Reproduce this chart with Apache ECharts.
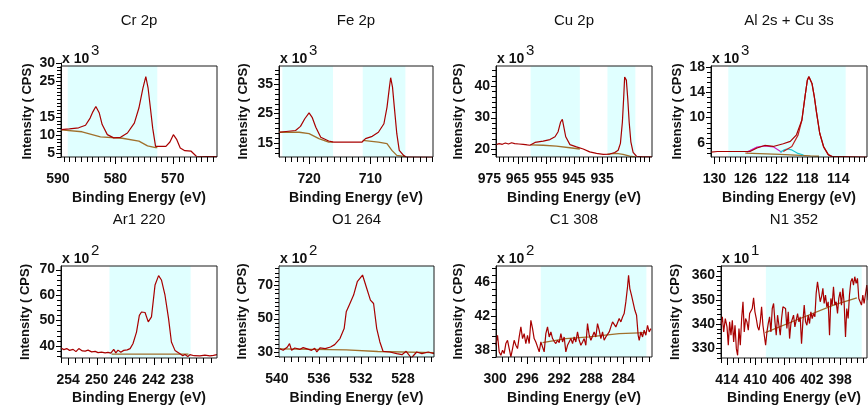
<!DOCTYPE html>
<html><head><meta charset="utf-8">
<script src="https://cdn.jsdelivr.net/npm/echarts@6/dist/echarts.min.js"></script>
<style>html,body{margin:0;padding:0;background:#fff}#c{width:868px;height:407px}</style>
</head><body><div id="c"></div>
<script>
// ---------------- DATA ----------------
const titles = ['Cr 2p', 'Fe 2p', 'Cu 2p', 'Al 2s + Cu 3s', 'Ar1 220', 'O1 264', 'C1 308', 'N1 352'];
const multipliers = ['3', '3', '3', '3', '2', '2', '2', '1'];
const xTitle = 'Binding Energy (eV)';
const yTitle = 'Intensity ( CPS)';

// tick labels
const crXLabels = [590, 580, 570], crYLabels = [5, 10, 15, 25, 30];
const feXLabels = [720, 710], feYLabels = [15, 25, 35];
const cuXLabels = [975, 965, 955, 945, 935], cuYLabels = [20, 30, 40];
const alXLabels = [130, 126, 122, 118, 114], alYLabels = [6, 10, 14, 18];
const arXLabels = [254, 250, 246, 242, 238], arYLabels = [40, 50, 60, 70];
const o1XLabels = [540, 536, 532, 528], o1YLabels = [30, 50, 70];
const c1XLabels = [300, 296, 292, 288, 284], c1YLabels = [38, 42, 46];
const n1XLabels = [414, 410, 406, 402, 398], n1YLabels = [330, 340, 350, 360];

// shaded regions (binding energy ranges)
const crShade = [[588.3, 572.7]];
const feShade = [[724.35, 716.1], [711.25, 704.3]];
const cuShade = [[960.35, 942.9], [933.1, 923.2]];
const alShade = [[128.2, 113.05]];
const arShade = [[248.2, 236.8]];
const o1Shade = [[539.8, 525.05]];
const c1Shade = [[294.3, 281.1]];
const n1Shade = [[408.5, 394.95]];

// spectra [BE (eV), intensity]
const crData = [[589.47,11.5],[588.0,11.7],[586.4,12.0],[585.2,12.7],[584.4,14.7],[583.9,16.5],[583.4,17.9],[582.8,16.1],[582.3,12.9],[581.4,10.1],[580.3,9.2],[579.1,9.35],[577.9,10.55],[576.7,13.3],[575.9,17.5],[575.2,23.0],[574.7,26.2],[574.3,23.0],[573.9,17.5],[573.5,11.9],[573.0,6.85],[571.2,6.85],[570.5,8.05],[569.9,10.1],[569.3,8.7],[568.7,6.4],[567.9,5.65],[566.8,5.5],[565.9,4.1],[562.3,4.0]];
const crBg = [[589.47,11.4],[585.8,10.9],[582.6,9.5],[578.8,9.1],[575.9,8.3],[574.4,7.0],[573.0,6.5],[572.7,6.5]];

const feData = [[724.9,18.6],[722.2,19.2],[721.4,20.6],[720.7,23.2],[720.0,25.2],[719.5,23.7],[718.9,20.3],[718.1,16.9],[716.8,15.6],[716.0,15.2],[711.4,15.2],[710.8,16.4],[709.7,17.2],[708.7,18.6],[707.8,21.5],[707.3,27.1],[706.9,34.0],[706.7,37.2],[706.4,34.0],[706.1,27.1],[705.7,18.1],[705.3,12.4],[704.6,10.7],[704.1,10.1],[699.8,10.0]];
const feBg1 = [[724.9,18.6],[721.6,18.6],[720.0,18.1],[718.4,16.4],[716.8,15.2],[716.1,15.2]];
const feBg2 = [[711.25,15.8],[708.7,15.2],[707.3,14.7],[706.5,12.4],[705.7,10.7],[704.3,10.3]];

const cuData = [[972.6,21.4],[971.5,21.7],[970.4,21.5],[969.3,21.9],[968.2,21.6],[967.1,22.0],[966.0,21.7],[964.5,21.6],[963.0,21.5],[961.5,21.3],[960.6,21.2],[958.8,22.1],[955.9,22.5],[953.5,23.0],[951.7,23.9],[950.6,25.5],[949.7,28.6],[949.1,29.4],[948.6,27.1],[947.9,23.9],[946.4,21.4],[944.1,20.7],[941.7,20.0],[939.4,19.1],[937.0,18.6],[934.6,18.3],[932.3,18.4],[930.5,18.9],[929.3,19.6],[928.5,21.8],[927.8,28.6],[927.3,37.1],[927.0,42.9],[926.4,41.9],[925.9,36.0],[925.4,28.6],[924.8,22.3],[924.0,18.9],[922.8,17.7],[920.5,17.5],[917.3,17.5]];
const cuBg1 = [[960.4,21.3],[955.9,21.2],[951.2,20.9],[946.4,20.4],[942.9,20.0]];
const cuBg2 = [[933.1,18.4],[929.9,18.6],[927.6,18.3],[925.2,17.7],[923.2,17.5]];

const alData = [[130.43,4.5],[129.6,4.6],[129.5,4.8],[129.4,4.6],[127.5,4.6],[125.4,4.6],[124.5,5.15],[123.5,5.56],[122.4,5.4],[121.1,5.83],[120.2,6.2],[119.4,7.25],[118.7,9.6],[118.3,13.3],[118.0,15.9],[117.8,16.5],[117.4,15.4],[117.1,13.3],[116.8,10.7],[116.4,7.5],[115.9,5.4],[115.3,4.1],[114.9,3.83],[110.3,3.73]];
const alComp = [[121.1,4.6],[120.0,5.4],[119.2,7.2],[118.7,9.6],[118.3,13.3],[118.0,15.9],[117.8,16.4],[117.4,15.4],[117.1,13.3],[116.8,10.7],[116.4,7.5],[115.9,5.3],[115.3,4.1],[114.8,3.85]];
const alPink = [[125.8,4.5],[124.5,5.3],[123.5,5.5],[122.4,5.35],[121.75,4.85],[121.3,4.5]];
const alCyan = [[121.5,4.5],[120.9,4.9],[120.6,5.0],[120.0,4.85],[119.2,4.3],[118.5,4.05]];
const alBg = [[126.0,4.35],[121.5,4.15],[117.6,3.9],[116.5,3.85]];

const arData = [[255.0,39.1],[254.6,38.5],[254.2,38.9],[253.8,38.2],[253.3,38.6],[252.9,37.7],[252.5,38.9],[252.0,38.0],[251.6,37.9],[251.2,38.3],[250.7,37.6],[250.2,37.8],[249.8,37.3],[249.3,37.5],[248.8,37.2],[248.4,37.4],[248.0,37.1],[247.6,38.6],[247.3,37.2],[247.0,38.3],[246.6,37.5],[246.2,38.2],[245.7,38.4],[245.3,38.9],[244.9,40.8],[244.4,45.4],[244.0,52.0],[243.7,53.3],[243.2,53.1],[242.75,49.4],[242.3,51.4],[241.8,63.9],[241.3,67.6],[240.9,65.9],[240.4,59.9],[239.9,50.7],[239.5,41.5],[239.0,38.2],[238.3,36.9],[237.9,36.1],[237.6,36.6],[237.2,35.8],[236.9,36.5],[236.3,36.1],[235.5,36.0],[234.8,36.3],[234.1,36.0],[233.6,36.2],[233.1,36.5]];
const arBg = [[247.9,36.7],[237.1,36.7]];

const o1Data = [[539.75,32.0],[539.4,31.0],[539.0,33.0],[538.8,35.0],[538.6,31.0],[538.3,32.4],[537.8,31.6],[537.5,32.6],[537.2,32.0],[536.9,31.4],[536.7,31.0],[536.4,32.2],[536.2,30.0],[535.9,32.4],[535.4,32.0],[534.9,33.0],[534.5,34.4],[534.0,38.0],[533.6,44.0],[533.4,54.0],[533.05,59.0],[532.7,64.0],[532.35,72.0],[531.85,76.0],[531.5,69.0],[531.1,61.0],[530.8,59.0],[530.5,44.0],[530.2,36.0],[529.9,30.4],[529.25,30.0],[528.6,29.0],[528.1,28.4],[527.7,30.4],[527.2,26.4],[526.7,30.0],[526.2,29.0],[525.6,30.0],[525.05,29.0]];
const o1Bg = [[539.75,31.8],[533.4,31.2],[530.4,30.3],[525.05,29.6]];

const c1Data = [[299.92,38.53],[299.71,39.71],[299.5,37.75],[299.29,37.35],[299.08,37.94],[298.88,37.55],[298.67,38.73],[298.46,39.12],[298.25,38.14],[298.04,37.16],[297.83,38.14],[297.63,39.12],[297.42,38.53],[297.21,38.14],[297.0,39.51],[296.79,40.69],[296.58,39.32],[296.38,39.9],[296.17,38.73],[295.96,39.71],[295.75,38.73],[295.54,41.47],[295.33,40.49],[295.13,39.32],[294.92,38.92],[294.71,38.34],[294.5,37.75],[294.29,38.92],[294.08,39.12],[293.88,37.75],[293.67,39.9],[293.46,40.69],[293.25,39.51],[293.04,40.1],[292.83,39.32],[292.63,39.0],[292.42,38.73],[292.21,39.12],[292.0,38.85],[291.79,39.9],[291.58,38.92],[291.38,39.51],[291.17,37.75],[290.96,38.53],[290.75,38.34],[290.54,39.32],[290.33,38.73],[290.13,39.51],[289.92,38.92],[289.71,40.1],[289.5,39.12],[289.29,38.53],[289.08,38.92],[288.88,39.32],[288.67,38.53],[288.46,41.08],[288.25,39.71],[288.04,39.12],[287.83,39.32],[287.63,40.1],[287.42,39.51],[287.21,41.08],[287.0,40.3],[286.79,39.32],[286.58,40.1],[286.38,39.12],[286.17,39.51],[285.96,39.71],[285.75,40.1],[285.54,40.69],[285.33,41.28],[285.13,41.08],[284.92,40.69],[284.71,40.88],[284.5,41.67],[284.29,41.28],[284.08,41.86],[283.88,42.26],[283.67,43.63],[283.46,45.39],[283.33,46.77],[283.17,45.2],[282.96,44.41],[282.75,44.22],[282.54,42.65],[282.33,42.06],[282.13,39.71],[282.0,39.12],[281.79,40.1],[281.58,39.51],[281.38,40.3],[281.17,39.71],[280.96,40.88],[280.75,40.1],[280.54,40.49]];
const c1Bg = [[294.08,38.85],[291.17,39.32],[288.25,39.51],[284.5,39.9],[281.17,40.02]];

const n1Data = [[414.85,339.41],[414.66,342.89],[414.47,336.64],[414.24,342.19],[414.0,338.72],[413.82,331.08],[413.63,340.8],[413.44,335.25],[413.25,341.5],[413.06,332.47],[412.87,339.41],[412.68,329.69],[412.5,326.91],[412.31,338.02],[412.12,331.08],[411.93,342.19],[411.74,349.14],[411.56,336.64],[411.37,342.19],[411.18,340.8],[410.99,337.33],[410.8,344.27],[410.61,343.58],[410.43,346.36],[410.24,350.8],[410.05,344.97],[409.86,342.19],[409.67,338.72],[409.48,337.33],[409.3,340.8],[409.11,347.05],[408.92,339.41],[408.73,335.25],[408.54,331.08],[408.35,336.64],[408.17,340.11],[407.98,342.89],[407.79,336.64],[407.6,346.36],[407.41,348.44],[407.22,340.8],[407.04,335.25],[406.85,343.58],[406.66,339.41],[406.47,335.25],[406.28,342.19],[406.09,347.05],[405.91,347.75],[405.72,346.36],[405.53,338.02],[405.34,344.97],[405.15,333.86],[404.96,340.11],[404.78,339.41],[404.59,343.58],[404.4,338.72],[404.21,341.5],[404.02,344.27],[403.83,340.8],[403.65,342.89],[403.46,331.77],[403.27,340.8],[403.08,347.75],[402.89,340.8],[402.7,339.41],[402.52,343.58],[402.33,340.11],[402.14,344.97],[401.95,342.19],[401.76,344.27],[401.57,342.89],[401.39,352.61],[401.2,357.47],[401.01,353.3],[400.82,349.14],[400.63,351.22],[400.44,354.69],[400.26,348.44],[400.07,351.91],[399.88,347.05],[399.69,349.14],[399.5,335.25],[399.31,350.52],[399.13,347.75],[398.94,355.39],[398.75,347.75],[398.56,349.14],[398.37,344.27],[398.19,350.52],[398.0,353.3],[397.81,347.75],[397.62,354.69],[397.43,348.44],[397.24,334.55],[397.06,346.36],[396.87,342.19],[396.68,351.91],[396.49,357.47],[396.3,358.86],[396.11,356.08],[395.93,359.55],[395.74,356.77],[395.55,358.86],[395.36,350.52],[395.17,349.14],[394.98,347.75],[394.79,351.91],[394.61,348.44],[394.42,349.14],[394.23,356.08],[394.04,349.83]];
const n1Bg = [[408.59,336.36],[403.65,342.2],[398.94,347.75],[395.64,350.8]];

// ---------------- LAYOUT / STYLE ----------------
const RED = '#a80000', BROWN = '#a0702c', SHADE = '#e0ffff', INK = '#111';
const FONT = '"Liberation Sans", Arial, sans-serif';

const panels = [
  {data: crData, bgs: [crBg], comps: [], shade: crShade, xl: crXLabels, yl: crYLabels, xr: [589.47, 562.3], yr: [3.89, 29.17], xs: 1, ys: 1, box: [61, 66, 217, 157], ytx: 27},
  {data: feData, bgs: [feBg1, feBg2], comps: [], shade: feShade, xl: feXLabels, yl: feYLabels, xr: [724.9, 699.8], yr: [10.15, 41.2], xs: 1, ys: 10/6, box: [279, 66, 433, 157], ytx: 243},
  {data: cuData, bgs: [cuBg1, cuBg2], comps: [], shade: cuShade, xl: cuXLabels, yl: cuYLabels, xr: [972.63, 917.3], yr: [17.46, 46.4], xs: 10/6, ys: 10/6, box: [496, 66, 652, 157], ytx: 458},
  {data: alData, bgs: [alBg], comps: [[alPink, '#d020c0'], [alCyan, '#20c8d0'], [alComp, '#c02020']], shade: alShade, xl: alXLabels, yl: alYLabels, xr: [130.43, 110.3], yr: [3.73, 18.16], xs: 4/6, ys: 0.8, box: [711, 66, 867, 157], ytx: 677},
  {data: arData, bgs: [arBg], comps: [], shade: arShade, xl: arXLabels, yl: arYLabels, xr: [255.0, 233.1], yr: [35.2, 71.4], xs: 1, ys: 2, box: [61, 266, 217, 358], ytx: 25},
  {data: o1Data, bgs: [o1Bg], comps: [], shade: o1Shade, xl: o1XLabels, yl: o1YLabels, xr: [539.8, 525.05], yr: [27, 81.4], xs: 4/6, ys: 2.5, box: [279, 266, 434, 357], ytx: 242},
  {data: c1Data, bgs: [c1Bg], comps: [], shade: c1Shade, xl: c1XLabels, yl: c1YLabels, xr: [299.9, 280.4], yr: [37.15, 47.86], xs: 0.8, ys: 0.8, box: [496, 266, 652, 357], ytx: 458},
  {data: n1Data, bgs: [n1Bg], comps: [], shade: n1Shade, xl: n1XLabels, yl: n1YLabels, xr: [414.85, 394.2], yr: [325.8, 364.0], xs: 0.8, ys: 2, box: [721, 266, 867, 358], ytx: 675}
];

function tickList(lo, hi, anchor, step) {
  const out = [];
  let k = Math.ceil((lo - anchor) / step - 1e-6);
  for (;; k++) {
    const v = anchor + k * step;
    if (v > hi + 1e-6) break;
    out.push(+v.toFixed(4));
  }
  return out;
}
function isMajor(v, labels) { return labels.some(l => Math.abs(l - v) < 1e-3); }

const grids = [], xAxes = [], yAxes = [], series = [], graphics = [];
panels.forEach((p, i) => {
  const [bl, bt, br, bb] = p.box;
  const xpx = (br - bl) / (p.xr[0] - p.xr[1]);
  const ypx = (bb - bt) / (p.yr[1] - p.yr[0]);
  const xMax = Math.max(p.xr[0], ...p.xl), xMin = Math.min(p.xr[1], ...p.xl);
  const yMax = Math.max(p.yr[1], ...p.yl), yMin = Math.min(p.yr[0], ...p.yl);
  const mL = bl - (xMax - p.xr[0]) * xpx, mR = br + (p.xr[1] - xMin) * xpx;
  const mT = bt - (yMax - p.yr[1]) * ypx, mB = bb + (p.yr[0] - yMin) * ypx;
  const g = 2 * i;
  grids.push({left: mL, top: mT, width: mR - mL, height: mB - mT, show: false, outerBoundsMode: 'none', containLabel: false});
  grids.push({left: bl, top: bt, width: br - bl, height: bb - bt, show: true, borderColor: '#1a1a1a', borderWidth: 1, backgroundColor: 'transparent', z: 5, outerBoundsMode: 'none', containLabel: false});
  const xt = tickList(p.xr[1], p.xr[0], p.xl[0], p.xs);
  const yt = tickList(p.yr[0], yMax, p.yl[0], p.ys);
  xAxes.push({
    gridIndex: g, type: 'value', inverse: true, min: xMin, max: xMax,
    offset: -(mB - bb),
    axisLine: {show: false}, splitLine: {show: false}, axisTick: {show: false},
    axisLabel: {customValues: p.xl, margin: 15, fontSize: 14, fontWeight: 'bold', color: INK, fontFamily: FONT}
  });
  xAxes.push({gridIndex: g + 1, type: 'value', show: false, min: 0, max: 1});
  yAxes.push({
    gridIndex: g, type: 'value', min: yMin, max: yMax,
    offset: -(bl - mL),
    axisLine: {show: true, lineStyle: {color: '#000', width: 1}}, splitLine: {show: false}, axisTick: {show: false},
    axisLabel: {customValues: p.yl, margin: 6, fontSize: 14, fontWeight: 'bold', color: INK, fontFamily: FONT}
  });
  yAxes.push({gridIndex: g + 1, type: 'value', show: false, min: 0, max: 1});

  // shaded region series (behind)
  series.push({
    type: 'line', xAxisIndex: g, yAxisIndex: g, data: [], z: 1, silent: true,
    markArea: {silent: true, itemStyle: {color: SHADE, opacity: 1}, label: {show: false},
      data: p.shade.map(s => [{xAxis: s[0], yAxis: p.yr[0]}, {xAxis: s[1], yAxis: p.yr[1]}])}
  });
  p.bgs.forEach(bg => series.push({type: 'line', xAxisIndex: g, yAxisIndex: g, data: bg, z: 3, showSymbol: false, animation: false,
    lineStyle: {color: BROWN, width: 1.3}, itemStyle: {color: BROWN}}));
  p.comps.forEach(([d, c]) => series.push({type: 'line', xAxisIndex: g, yAxisIndex: g, data: d, z: 3, showSymbol: false, animation: false,
    lineStyle: {color: c, width: 1.2}, itemStyle: {color: c}}));
  series.push({type: 'line', xAxisIndex: g, yAxisIndex: g, data: p.data, z: 4, showSymbol: false, animation: false,
    lineStyle: {color: RED, width: 1.2}, itemStyle: {color: RED}});

  // tick marks, placed through the axes' scales
  series.push({
    type: 'custom', xAxisIndex: g, yAxisIndex: g, z: 6, silent: true, clip: false, animation: false,
    data: xt.map(v => [v, p.yr[0]]),
    renderItem: (params, api) => {
      const v = api.value(0);
      const pt = api.coord([v, p.yr[0]]);
      const x = Math.round(pt[0]) + 0.5;
      const len = isMajor(v, p.xl) ? 7 : 5;
      return {type: 'line', shape: {x1: x, y1: pt[1], x2: x, y2: pt[1] + len}, style: {stroke: '#000', lineWidth: 1}};
    }
  });
  series.push({
    type: 'custom', xAxisIndex: g, yAxisIndex: g, z: 6, silent: true, clip: false, animation: false,
    data: yt.map(v => [p.xr[0], v]),
    renderItem: (params, api) => {
      const v = api.value(1);
      const pt = api.coord([p.xr[0], v]);
      const y = Math.round(pt[1]) + 0.5;
      const len = isMajor(v, p.yl) ? 5 : 4;
      return {type: 'line', shape: {x1: pt[0], y1: y, x2: pt[0] - len, y2: y}, style: {stroke: '#000', lineWidth: 1}};
    }
  });

  const cx = (bl + br) / 2;
  const row = i < 4 ? 0 : 1;
  graphics.push({type: 'text', x: cx, y: row ? 220 : 21, style: {text: titles[i], font: '15px ' + FONT, fill: INK, align: 'center', verticalAlign: 'middle'}});
  graphics.push({type: 'text', x: cx, y: row ? 398 : 198, style: {text: xTitle, font: 'bold 14px ' + FONT, fill: INK, align: 'center', verticalAlign: 'middle'}});
  graphics.push({type: 'text', x: p.ytx, y: (bt + bb) / 2, rotation: Math.PI / 2, style: {text: yTitle, font: 'bold 13px ' + FONT, fill: INK, align: 'center', verticalAlign: 'middle'}});
  graphics.push({type: 'text', x: bl + 1, y: bt - 7, style: {text: 'x 10', font: 'bold 14px ' + FONT, fill: INK, align: 'left', verticalAlign: 'middle'}});
  graphics.push({type: 'text', x: bl + 30, y: bt - 15, style: {text: multipliers[i], font: '15px ' + FONT, fill: INK, align: 'left', verticalAlign: 'middle'}});
});

const chart = echarts.init(document.getElementById('c'), null, {renderer: 'canvas'});
chart.setOption({
  animation: false,
  backgroundColor: '#fff',
  grid: grids, xAxis: xAxes, yAxis: yAxes, series: series,
  graphic: {elements: graphics}
});
</script>
</body></html>
